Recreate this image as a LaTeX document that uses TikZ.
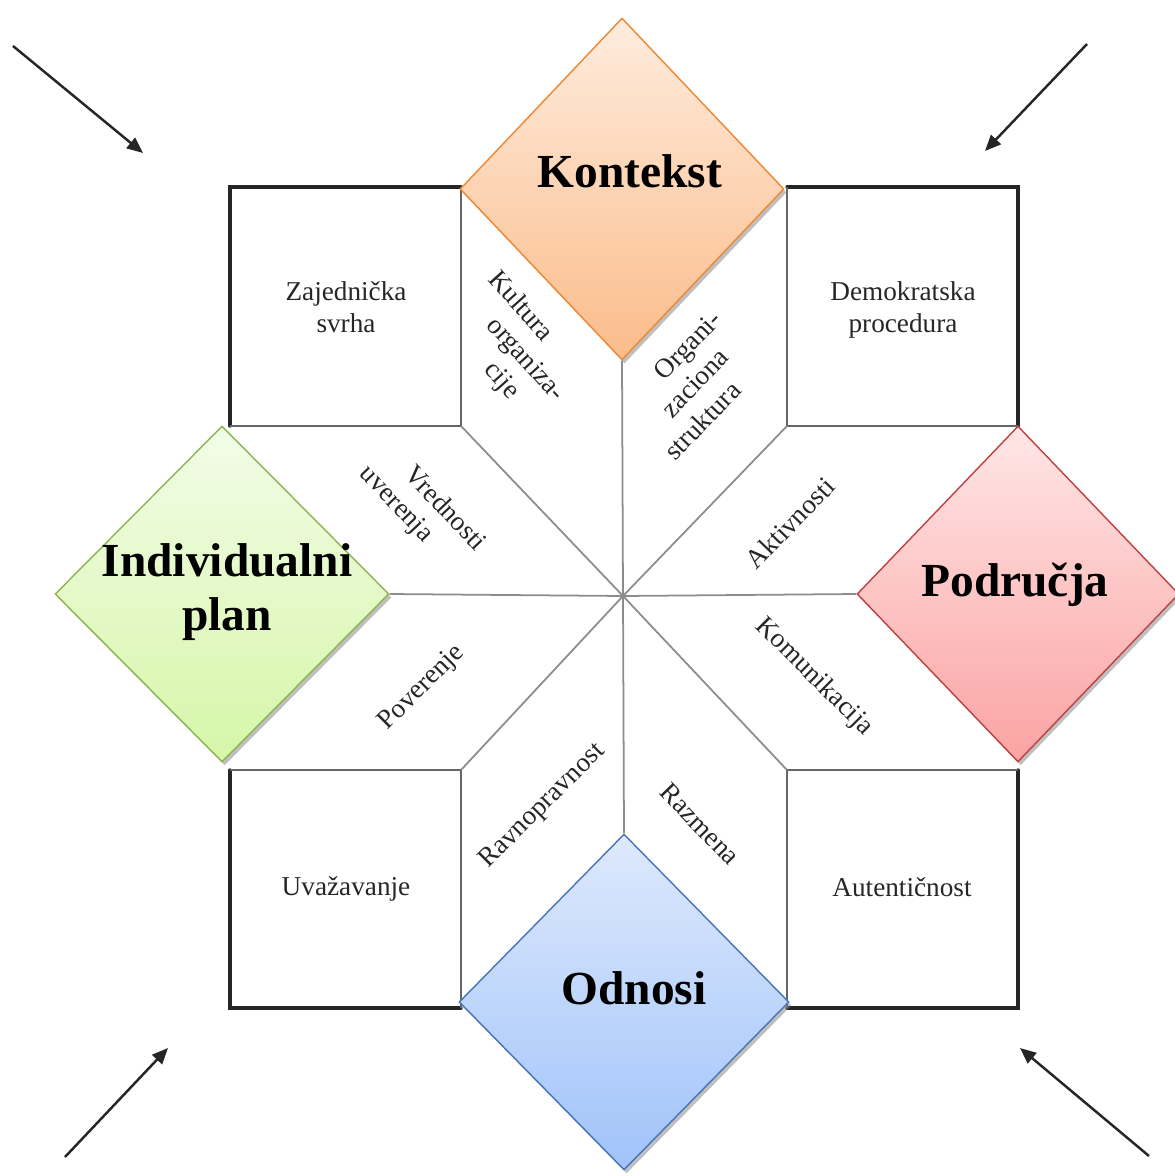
\documentclass[tikz,border=0pt]{standalone}
\usepackage{fontspec}
\setmainfont{Liberation Serif}
\usetikzlibrary{arrows.meta,shapes,positioning,shadows,calc}

\definecolor{ktop}{RGB}{254,236,222}
\definecolor{kbot}{RGB}{251,188,138}
\definecolor{kline}{RGB}{238,135,50}
\definecolor{ptop}{RGB}{255,230,230}
\definecolor{pbot}{RGB}{251,163,163}
\definecolor{pline}{RGB}{190,65,65}
\definecolor{otop}{RGB}{222,233,252}
\definecolor{obot}{RGB}{160,195,250}
\definecolor{oline}{RGB}{70,115,185}
\definecolor{itop}{RGB}{242,252,232}
\definecolor{ibot}{RGB}{214,246,168}
\definecolor{iline}{RGB}{140,180,80}

\begin{document}
\begin{tikzpicture}[x=0.02cm, y=-0.02cm,
    outline/.style={line width=1.9pt, draw=black!85, line cap=round},
    sqline/.style={line width=1.3pt, draw=black!60},
    spoke/.style={line width=1pt, draw=black!45},
    topic/.style={shape=diamond, inner sep=0pt, line width=0.8pt,
        drop shadow={shadow xshift=1.5pt, shadow yshift=-2pt, opacity=0.5}},
    title/.style={font=\fontsize{27}{31}\selectfont\bfseries, inner sep=0pt},
    lbl/.style={font=\fontsize{15.5}{18}\selectfont, text=black!85, align=center, inner sep=0pt},
    arr/.style={line width=1.4pt, draw=black!85, -{Triangle[length=0.32cm, width=0.27cm]}}]

    \useasboundingbox (0,0) rectangle (1175,1176);

    % Center and square corners
    \coordinate (c) at (623,596);
    \coordinate (tlA) at (230,187);
    \coordinate (tlB) at (461,187);
    \coordinate (tlC) at (461,426);
    \coordinate (tlD) at (230,426);
    \coordinate (trA) at (787,187);
    \coordinate (trB) at (1018,187);
    \coordinate (trC) at (1018,426);
    \coordinate (trD) at (787,426);
    \coordinate (blA) at (230,770);
    \coordinate (blB) at (461,770);
    \coordinate (blC) at (461,1008);
    \coordinate (blD) at (230,1008);
    \coordinate (brA) at (787,770);
    \coordinate (brB) at (1018,770);
    \coordinate (brC) at (1018,1008);
    \coordinate (brD) at (787,1008);

    % Outer frame
    \draw[outline] (tlD) -- (tlA) -- (tlB);
    \draw[outline] (trA) -- (trB) -- (trC);
    \draw[outline] (blA) -- (blD) -- (blC);
    \draw[outline] (brB) -- (brC) -- (brD);

    % Inner sides of the squares
    \draw[sqline] (tlB) -- (tlC) -- (tlD);
    \draw[sqline] (trA) -- (trD) -- (trC);
    \draw[sqline] (blA) -- (blB) -- (blC);
    \draw[sqline] (brB) -- (brA) -- (brD);

    % Diagonal spokes
    \foreach \p in {tlC,trD,blB,brA}
        \draw[spoke] (c) -- (\p);

    % The four diamonds
    \node[topic, top color=ktop, bottom color=kbot, draw=kline,
        minimum width=6.48cm, minimum height=6.84cm] (kontekst) at (622,189) {};
    \node[topic, top color=ptop, bottom color=pbot, draw=pline,
        minimum width=6.44cm, minimum height=6.72cm] (podrucja) at (1018,594) {};
    \node[topic, top color=otop, bottom color=obot, draw=oline,
        minimum width=6.6cm, minimum height=6.72cm] (odnosi) at (624,1002) {};
    \node[topic, top color=itop, bottom color=ibot, draw=iline,
        minimum width=6.68cm, minimum height=6.72cm] (plan) at (222,594) {};

    % Straight spokes
    \draw[spoke] (c) -- (kontekst.south);
    \draw[spoke] (c) -- (podrucja.west);
    \draw[spoke] (c) -- (odnosi.north);
    \draw[spoke] (c) -- (plan.east);

    % Titles
    \node[title, anchor=base] (kontekst-t) at (630,187) {Kontekst};
    \node[title, anchor=base] (podrucja-t) at (1015,596) {Područja};
    \node[title, anchor=base] (odnosi-t) at (634,1004) {Odnosi};
    \node[title, align=center] (plan-t) at (227,592) {Individualni\\plan};

    % Labels in the squares
    \node[lbl] (svrha) at (346,307) {Zajednička\\svrha};
    \node[lbl] (procedura) at (903,310) {Demokratska\\procedura};
    \node[lbl, anchor=base] (uvazavanje) at (346,895) {Uvažavanje};
    \node[lbl, anchor=base] (autenticnost) at (902,896) {Autentičnost};

    % Labels between the spokes
    \node[lbl, rotate=-48] (kultura) at (525,360) {Kultura\hspace*{1.72cm}\\organiza-\\cije};
    \node[lbl, rotate=46] (struktura) at (695,383) {\hspace*{0.88cm}Organi-\\zaciona\\struktura\hspace*{0.88cm}};
    \node[lbl, rotate=-46.5] (vrednosti) at (420,507) {\hspace*{0.74cm}Vrednosti\\uverenja\hspace*{0.74cm}};
    \node[lbl, rotate=46] (aktivnosti) at (790,523) {Aktivnosti};
    \node[lbl, rotate=45] (poverenje) at (422,688) {Poverenje};
    \node[lbl, rotate=-45] (komunikacija) at (814,677) {Komunikacija};
    \node[lbl, rotate=45] (ravnopravnost) at (543,806) {Ravnopravnost};
    \node[lbl, rotate=-46] (razmena) at (700,824) {Razmena};

    % Corner arrows
    \coordinate (a1s) at (13,46);
    \coordinate (a1e) at (143,153);
    \coordinate (a2s) at (1087,44);
    \coordinate (a2e) at (985,151);
    \coordinate (a3s) at (65,1157);
    \coordinate (a3e) at (168,1048);
    \coordinate (a4s) at (1149,1156);
    \coordinate (a4e) at (1020,1048);
    \draw[arr] (a1s) -- (a1e);
    \draw[arr] (a2s) -- (a2e);
    \draw[arr] (a3s) -- (a3e);
    \draw[arr] (a4s) -- (a4e);
\end{tikzpicture}
\end{document}
